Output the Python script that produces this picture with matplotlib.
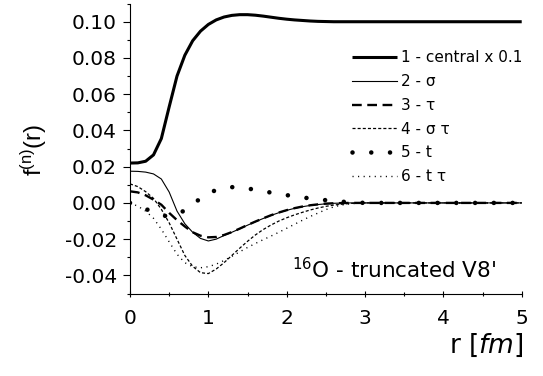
import matplotlib
matplotlib.use("Agg")
import matplotlib.pyplot as plt
from matplotlib.ticker import MultipleLocator, FormatStrFormatter

plt.rcParams['font.family'] = ['DejaVu Sans']
plt.rcParams['mathtext.fontset'] = 'custom'
plt.rcParams['mathtext.rm'] = 'Liberation Sans'
plt.rcParams['mathtext.it'] = 'Liberation Sans:italic'
plt.rcParams['axes.unicode_minus'] = False
plt.rcParams['lines.scale_dashes'] = False

# ---- data ----
r = [0.0, 0.1, 0.2, 0.3, 0.4, 0.5, 0.6, 0.7, 0.8, 0.9, 1.0, 1.1, 1.2, 1.3, 1.4,
     1.5, 1.6, 1.7, 1.8, 1.9, 2.0, 2.1, 2.2, 2.3, 2.4, 2.5, 2.6, 2.7, 2.8, 2.9,
     3.0, 3.5, 4.0, 4.5, 5.0]

central = [0.0220, 0.0221, 0.0230, 0.0265, 0.0355, 0.0530, 0.0700, 0.0815, 0.0895,
           0.0948, 0.0985, 0.1010, 0.1026, 0.1035, 0.1039, 0.1039, 0.1036, 0.1031,
           0.1025, 0.1019, 0.1014, 0.1010, 0.1007, 0.1004, 0.1002, 0.1001, 0.1000,
           0.1000, 0.1000, 0.1000, 0.1000, 0.1000, 0.1000, 0.1000, 0.1000]

sigma = [0.0175, 0.0174, 0.0170, 0.0160, 0.0132, 0.0060, -0.0045, -0.0115, -0.0162,
         -0.0196, -0.0210, -0.0200, -0.0180, -0.0162, -0.0143, -0.0123, -0.0104,
         -0.0086, -0.0069, -0.0054, -0.0041, -0.0030, -0.0021, -0.0014, -0.0009,
         -0.0005, -0.0002, -0.0001, 0.0, 0.0, 0.0, 0.0, 0.0, 0.0, 0.0]

tau = [0.0064, 0.0058, 0.0042, 0.0018, -0.0010, -0.0055, -0.0095, -0.0130, -0.0162,
       -0.0181, -0.0190, -0.0188, -0.0177, -0.0161, -0.0142, -0.0122, -0.0103,
       -0.0085, -0.0068, -0.0053, -0.0040, -0.0029, -0.0020, -0.0013, -0.0008,
       -0.0004, -0.0002, -0.0001, 0.0, 0.0, 0.0, 0.0, 0.0, 0.0, 0.0]

sigma_tau = [0.0105, 0.0090, 0.0062, 0.0025, -0.0035, -0.0110, -0.0200, -0.0290,
             -0.0350, -0.0385, -0.0390, -0.0365, -0.0330, -0.0290, -0.0250, -0.0212,
             -0.0177, -0.0147, -0.0122, -0.0100, -0.0082, -0.0066, -0.0052, -0.0039,
             -0.0028, -0.0019, -0.0012, -0.0007, -0.0003, -0.0001, 0.0, 0.0, 0.0,
             0.0, 0.0]

tensor = [0.0, -0.0012, -0.0033, -0.0052, -0.0068, -0.0075, -0.0065, -0.0040, -0.0008,
          0.0025, 0.0053, 0.0071, 0.0082, 0.0087, 0.0086, 0.0080, 0.0072, 0.0064,
          0.0057, 0.0050, 0.0043, 0.0036, 0.0030, 0.0025, 0.0020, 0.0015, 0.0010,
          0.0007, 0.0004, 0.0002, 0.0, 0.0, 0.0, 0.0, 0.0]

tensor_tau = [0.0, -0.0018, -0.0045, -0.0085, -0.0145, -0.0215, -0.0283, -0.0330,
              -0.0352, -0.0358, -0.0352, -0.0338, -0.0318, -0.0295, -0.0270, -0.0246,
              -0.0224, -0.0203, -0.0183, -0.0162, -0.0140, -0.0118, -0.0096, -0.0075,
              -0.0056, -0.0037, -0.0022, -0.0012, -0.0005, -0.0002, 0.0, 0.0, 0.0,
              0.0, 0.0]

labels = ["1 - central x 0.1", "2 - \u03c3", "3 - \u03c4", "4 - \u03c3 \u03c4",
          "5 - t", "6 - t \u03c4"]

# ---- figure ----
fig = plt.figure(figsize=(5.43, 3.76), dpi=100)
ax = fig.add_axes([0.2394, 0.2194, 0.9608 - 0.2394, 0.9904 - 0.2194])

ax.plot(r, central, color='black', lw=2.2, solid_capstyle='butt', label=labels[0])
ax.plot(r, sigma, color='black', lw=0.8, label=labels[1])
ax.plot(r, tau, color='black', lw=1.7, linestyle=(0, (7, 4)), label=labels[2])
ax.plot(r, sigma_tau, color='black', lw=0.9, linestyle=(0, (2.2, 1.5)), label=labels[3])
ax.plot(r, tensor, color='black', lw=3.3, linestyle=(0, (0.01, 13.5)),
        dash_capstyle='round', label=labels[4])
ax.plot(r, tensor_tau, color='black', lw=1.0, linestyle=(0, (0.8, 3.2)), label=labels[5])

ax.set_xlim(0, 5)
ax.set_ylim(-0.05, 0.11)
ax.xaxis.set_major_locator(MultipleLocator(1))
ax.xaxis.set_minor_locator(MultipleLocator(0.5))
ax.yaxis.set_major_locator(MultipleLocator(0.02))
ax.yaxis.set_minor_locator(MultipleLocator(0.01))
ax.yaxis.set_major_formatter(FormatStrFormatter('%.2f'))

for s in ['top', 'right']:
    ax.spines[s].set_visible(False)
for s in ['left', 'bottom']:
    ax.spines[s].set_linewidth(0.8)

ax.tick_params(axis='y', which='major', direction='out', length=5, width=0.8,
               labelsize=14.5, pad=4.5)
ax.tick_params(axis='y', which='minor', direction='out', length=2.5, width=0.8)
ax.tick_params(axis='x', which='major', direction='inout', length=5, width=0.8,
               labelsize=14.5, pad=9)
ax.tick_params(axis='x', which='minor', direction='inout', length=3, width=0.8)

leg = ax.legend(loc='upper left', bbox_to_anchor=(351.7 / 543, 1 - 50.5 / 376),
                bbox_transform=fig.transFigure, frameon=False, fontsize=11,
                handlelength=2.95, handletextpad=0.25, labelspacing=0.57,
                borderpad=0, borderaxespad=0)

fig.text(291.7 / 543, 1 - 278 / 376, r"$^{16}$O - truncated V8'", fontsize=15.5,
         ha='left', va='baseline', math_fontfamily='dejavusans')
fig.text(523 / 543, 1 - 353 / 376, r"r [$\it{fm}$]", fontsize=19,
         ha='right', va='baseline', math_fontfamily='dejavusans')
fig.text(34 / 543, 1 - 150 / 376, r"f$^{\mathrm{(n)}}$(r)", fontsize=17, rotation=90,
         ha='center', va='center', family='Liberation Sans')

fig.savefig("out.png", dpi=100)
